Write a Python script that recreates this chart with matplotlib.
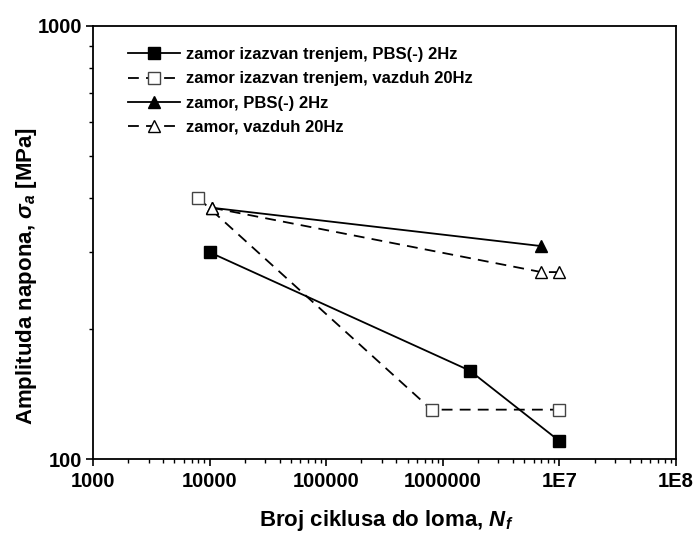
import numpy as np
import matplotlib
matplotlib.use('Agg')
import matplotlib.pyplot as plt
from matplotlib.ticker import FixedLocator, LogLocator, NullFormatter

plt.rcParams['font.family'] = ['Liberation Sans', 'DejaVu Sans']
plt.rcParams['mathtext.fontset'] = 'custom'
plt.rcParams['mathtext.it'] = 'Liberation Sans:italic:bold'
plt.rcParams['mathtext.rm'] = 'Liberation Sans:bold'

# podaci
n_trenje_pbs = [10000, 1700000, 10000000]
s_trenje_pbs = [300, 160, 110]
n_trenje_vaz = [8000, 800000, 10000000]
s_trenje_vaz = [400, 130, 130]
n_zamor_pbs = [10500, 7000000]
s_zamor_pbs = [380, 310]
n_zamor_vaz = [10500, 7000000, 10000000]
s_zamor_vaz = [380, 270, 270]

labels = ['zamor izazvan trenjem, PBS(-) 2Hz',
          'zamor izazvan trenjem, vazduh 20Hz',
          'zamor, PBS(-) 2Hz',
          'zamor, vazduh 20Hz']
x_ticks = [1e3, 1e4, 1e5, 1e6, 1e7, 1e8]
x_ticklabels = ['1000', '10000', '100000', '1000000', '1E7', '1E8']
y_ticks = [100, 1000]
y_ticklabels = ['100', '1000']

fig = plt.figure(figsize=(6.97, 5.35), dpi=100)
ax = fig.add_axes([0.1334, 0.142, 0.8366, 0.810])

lw = 1.3
dash = (0, (6, 4))
ax.plot(n_trenje_pbs, s_trenje_pbs, color='black', lw=lw, marker='s', ms=9,
        mfc='black', mec='black', label=labels[0], zorder=3)
ax.plot(n_trenje_vaz, s_trenje_vaz, color='black', lw=lw, ls=dash, marker='s', ms=9,
        mfc='white', mec='#444444', mew=1.0, label=labels[1], zorder=3)
ax.plot(n_zamor_pbs, s_zamor_pbs, color='black', lw=lw, marker='^', ms=8,
        mfc='black', mec='black', label=labels[2], zorder=3)
ax.plot(n_zamor_vaz, s_zamor_vaz, color='black', lw=lw, ls=dash, marker='^', ms=8,
        mfc='white', mec='black', mew=1.0, label=labels[3], zorder=4)

ax.set_xscale('log')
ax.set_yscale('log')
ax.set_xlim(1e3, 1e8)
ax.set_ylim(100, 1000)

ax.xaxis.set_major_locator(FixedLocator(x_ticks))
ax.set_xticklabels(x_ticklabels)
ax.xaxis.set_minor_locator(LogLocator(base=10, subs=np.arange(2, 10)))
ax.xaxis.set_minor_formatter(NullFormatter())
ax.yaxis.set_major_locator(FixedLocator(y_ticks))
ax.set_yticklabels(y_ticklabels)
ax.yaxis.set_minor_locator(LogLocator(base=10, subs=np.arange(2, 10)))
ax.yaxis.set_minor_formatter(NullFormatter())

ax.tick_params(which='major', direction='out', length=5, width=1.2,
               labelsize=14.5, top=False, right=False)
ax.tick_params(axis='x', which='major', pad=4)
ax.tick_params(axis='y', which='major', pad=3)
ax.tick_params(which='minor', direction='out', length=3, width=1.0,
               top=False, right=False)
for lab in ax.get_xticklabels() + ax.get_yticklabels():
    lab.set_fontweight('bold')
for sp in ax.spines.values():
    sp.set_linewidth(1.3)

ax.set_xlabel(r'Broj ciklusa do loma, $N_f$', fontsize=16, fontweight='bold')
ax.set_ylabel(r'Amplituda napona, $\sigma_a$ [MPa]', fontsize=16, fontweight='bold')
ax.xaxis.set_label_coords(0.5026, -0.113)
ax.yaxis.set_label_coords(-0.093, 0.422)

leg = ax.legend(loc='upper left', bbox_to_anchor=(0.035, 0.985), frameon=False,
                handlelength=3.1, handletextpad=0.35, labelspacing=0.55,
                prop={'weight': 'bold', 'size': 12})

fig.savefig('out.png', dpi=100)
